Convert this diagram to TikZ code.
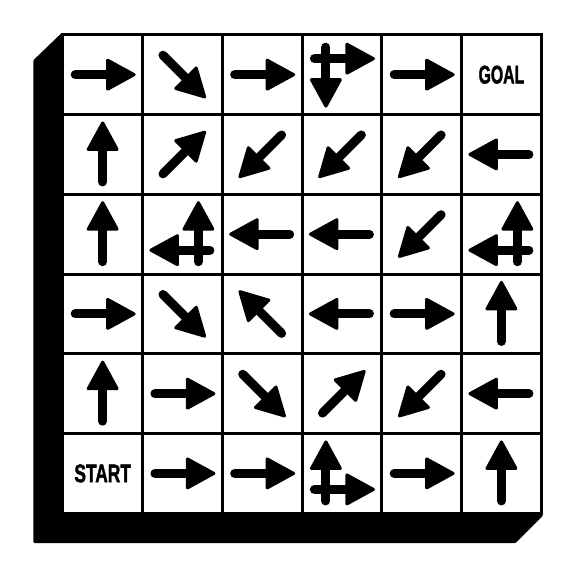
\documentclass[tikz,border=0pt]{standalone}
\usepackage{fontspec}
\usepackage{graphicx}
\newfontfamily\labelfont[FakeBold=2]{Liberation Sans}
\usetikzlibrary{calc}
\tikzset{
  cell/.style={draw=black, fill=white, line width=3pt, minimum size=79.75pt, inner sep=0pt, outer sep=0pt},
  arr/.pic={
    \draw[line width=9pt, line cap=round] (-27.5,0) -- (8,0);
    \filldraw[line width=3pt, line join=round] (31.5,0) -- (5,14.5) -- (5,-14.5) -- cycle;
  },
  lbl/.style={font=\labelfont\bfseries\fontsize{25.5}{26}\selectfont, inner sep=0pt}
}
\begin{document}
\begin{tikzpicture}[x=1pt, y=-1pt]
\useasboundingbox (0,0) rectangle (576,576);
% shadow
\fill[black, rounded corners=1pt] (61.3,33.3) -- (33.3,60.3) -- (33.3,543) -- (515.7,543) -- (542.7,516) -- (542.7,33.3) -- cycle;
% cells
\foreach \r in {0,...,5} {
  \foreach \c in {0,...,5} {
    \node[cell] (c-\r-\c) at ({62.8+79.75*(\c+0.5)}, {34.8+79.75*(\r+0.5)}) {};
  }
}
% single arrows
\foreach \r/\c/\a in {
  0/0/0, 0/1/-45, 0/2/0, 0/4/0,
  1/0/90, 1/1/45, 1/2/225, 1/3/225, 1/4/225, 1/5/180,
  2/0/90, 2/2/180, 2/3/180, 2/4/225,
  3/0/0, 3/1/-45, 3/2/135, 3/3/180, 3/4/0, 3/5/90,
  4/0/90, 4/1/0, 4/2/-45, 4/3/45, 4/4/225, 4/5/180,
  5/1/0, 5/2/0, 5/4/0, 5/5/90} {
  \pic[rotate=\a] at (c-\r-\c) {arr};
}
% double arrows
\pic[rotate=-90] at ($(c-0-3)+(-16,0)$) {arr};
\pic[rotate=0] at ($(c-0-3)+(0,-16)$) {arr};
\pic[rotate=90] at ($(c-2-1)+(16,0)$) {arr};
\pic[rotate=180] at ($(c-2-1)+(0,16)$) {arr};
\pic[rotate=90] at ($(c-2-5)+(16,0)$) {arr};
\pic[rotate=180] at ($(c-2-5)+(0,16)$) {arr};
\pic[rotate=90] at ($(c-5-3)+(-16,0)$) {arr};
\pic[rotate=0] at ($(c-5-3)+(0,16)$) {arr};
% labels
\node[lbl] (goal) at (c-0-5) {\scalebox{0.62}[1]{GOAL}};
\node[lbl] (start) at (c-5-0) {\scalebox{0.68}[1]{START}};
\end{tikzpicture}
\end{document}
